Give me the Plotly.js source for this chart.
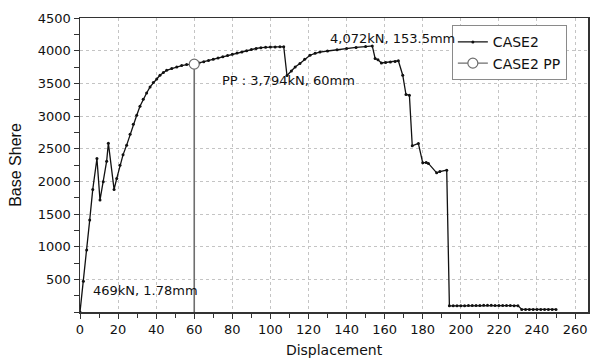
<!DOCTYPE html>
<html>
<head>
<meta charset="utf-8">
<script src="https://cdn.plot.ly/plotly-3.0.1.min.js"></script>
<style>html,body{margin:0;padding:0;background:#fff;}#chart{width:591px;height:358px;}</style>
</head>
<body>
<div id="chart"></div>
<script>
// CASE2 pushover curve (displacement in mm, base shear in kN)
const case2Disp = [
  0, 1.78, 3.5, 5.1, 6.7, 8.9, 10.5, 12.2, 14.0, 14.9, 17.9, 19.3, 21.0, 22.6,
  24.5, 26.3, 28.0, 29.8, 31.5, 33.2, 35.0, 36.8, 38.5, 40.3, 42.0, 43.8, 45.5,
  48.2, 50.8, 53.4, 56.0, 60.0,
  62.5, 65, 67.5, 70, 72.5, 75, 77.5, 80, 82.5, 85, 87.5, 90, 92.5, 95, 97.5,
  100, 102.5, 105, 107,
  108.7, 111, 113, 115.5, 118, 120.8, 123.5, 126, 130, 135, 140, 145, 150, 153.5,
  155, 156.5, 158.3, 160.5, 163, 165.5, 167.2, 169.5, 171.2, 173, 174.5, 177.7,
  180, 181.8, 183, 187.3, 189, 192.6,
  194, 196, 198, 200, 202, 204, 206, 208, 210, 212, 214, 216, 218, 220, 222,
  224, 226, 228, 230,
  232, 234, 236, 238, 240, 242, 244, 246, 248, 250
];
const case2Shear = [
  0, 469, 948, 1407, 1876, 2350, 1713, 1992, 2309, 2584, 1876, 2044, 2248, 2405,
  2554, 2722, 2875, 3012, 3150, 3257, 3353, 3445, 3512, 3567, 3624, 3665, 3700,
  3726, 3751, 3772, 3787, 3794,
  3813, 3832, 3851, 3870, 3888, 3906, 3925, 3944, 3963, 3981, 3999, 4016, 4033,
  4046, 4053, 4057, 4058, 4059, 4060,
  3620, 3690, 3750, 3803, 3870, 3930, 3960, 3978, 3995, 4015, 4035, 4050, 4063, 4072,
  3880, 3862, 3812, 3820, 3828, 3835, 3845, 3624, 3329, 3318, 2543, 2580,
  2283, 2290, 2274, 2130, 2150, 2171,
  95, 95, 96, 96, 97, 98, 99, 100, 101, 102, 103, 102, 101, 100, 99,
  98, 98, 97, 97,
  40, 40, 40, 40, 40, 40, 40, 40, 40, 40
];

// Performance point
const ppDisp = [60];
const ppShear = [3794];
const ppDropDisp = [60, 60];
const ppDropShear = [0, 3794];

// Text labels placed at data coordinates
const labelText = ['4,072kN, 153.5mm', 'PP : 3,794kN, 60mm', '469kN, 1.78mm'];
const labelX = [130.3, 73.5, 5.8];
const labelY = [4190, 3547, 336];

const xTickVals = [0, 20, 40, 60, 80, 100, 120, 140, 160, 180, 200, 220, 240, 260];
const yTickVals = [500, 1000, 1500, 2000, 2500, 3000, 3500, 4000, 4500];

const FONT = 'DejaVu Sans, Arial, sans-serif';

const traces = [
  {
    x: ppDropDisp, y: ppDropShear, mode: 'lines', showlegend: false, hoverinfo: 'skip',
    line: {color: '#6e6e6e', width: 1.6}
  },
  {
    x: case2Disp, y: case2Shear, mode: 'lines+markers', name: 'CASE2',
    line: {color: '#111111', width: 1.3},
    marker: {color: '#111111', size: 3, symbol: 'circle'}
  },
  {
    x: ppDisp, y: ppShear, mode: 'lines+markers', name: 'CASE2 PP',
    line: {color: '#6e6e6e', width: 1.3},
    marker: {color: '#ffffff', size: 10, symbol: 'circle', line: {color: '#6e6e6e', width: 1.2}}
  }
];

const annotations = labelText.map((t, i) => ({
  x: labelX[i], y: labelY[i], xref: 'x', yref: 'y', text: t, showarrow: false,
  xanchor: 'left', yanchor: 'middle', font: {family: FONT, size: 13, color: '#111'}
}));

const layout = {
  width: 591, height: 358,
  margin: {l: 80, r: 3, t: 18, b: 46},
  paper_bgcolor: '#ffffff', plot_bgcolor: '#ffffff',
  font: {family: FONT, size: 13, color: '#111'},
  showlegend: true,
  legend: {
    x: 0.732, y: 0.975, xanchor: 'left', yanchor: 'top',
    bgcolor: '#ffffff', bordercolor: '#8a8a8a', borderwidth: 1,
    font: {family: FONT, size: 14, color: '#111'},
    tracegroupgap: 0
  },
  xaxis: {
    range: [0, 266.8], tickmode: 'array', tickvals: xTickVals,
    ticks: 'outside', ticklen: 5, tickwidth: 1, tickcolor: '#333',
    minor: {tickmode: 'linear', tick0: 0, dtick: 10, ticks: 'outside', ticklen: 4, tickcolor: '#333', showgrid: false},
    showline: true, linecolor: '#333', linewidth: 1.5, mirror: true,
    showgrid: true, gridcolor: '#c4c4c4', griddash: 'dot', gridwidth: 1,
    zeroline: false,
    tickfont: {family: FONT, size: 13, color: '#111'},
    title: {text: 'Displacement', font: {family: FONT, size: 14, color: '#111'}, standoff: 10}
  },
  yaxis: {
    range: [0, 4500], tickmode: 'array', tickvals: yTickVals,
    ticks: 'outside', ticklen: 5, tickwidth: 1, tickcolor: '#333',
    minor: {tickmode: 'linear', tick0: 0, dtick: 250, ticks: 'outside', ticklen: 5, tickcolor: '#333', showgrid: false},
    showline: true, linecolor: '#333', linewidth: 1.5, mirror: true,
    showgrid: true, gridcolor: '#c4c4c4', griddash: 'dot', gridwidth: 1,
    zeroline: false,
    tickfont: {family: FONT, size: 13, color: '#111'},
    title: {text: 'Base Shere', font: {family: 'Liberation Sans, Arial, sans-serif', size: 16, color: '#111'}, standoff: 12}
  },
  annotations: annotations
};

Plotly.newPlot('chart', traces, layout, {displayModeBar: false, staticPlot: true});
</script>
</body>
</html>
